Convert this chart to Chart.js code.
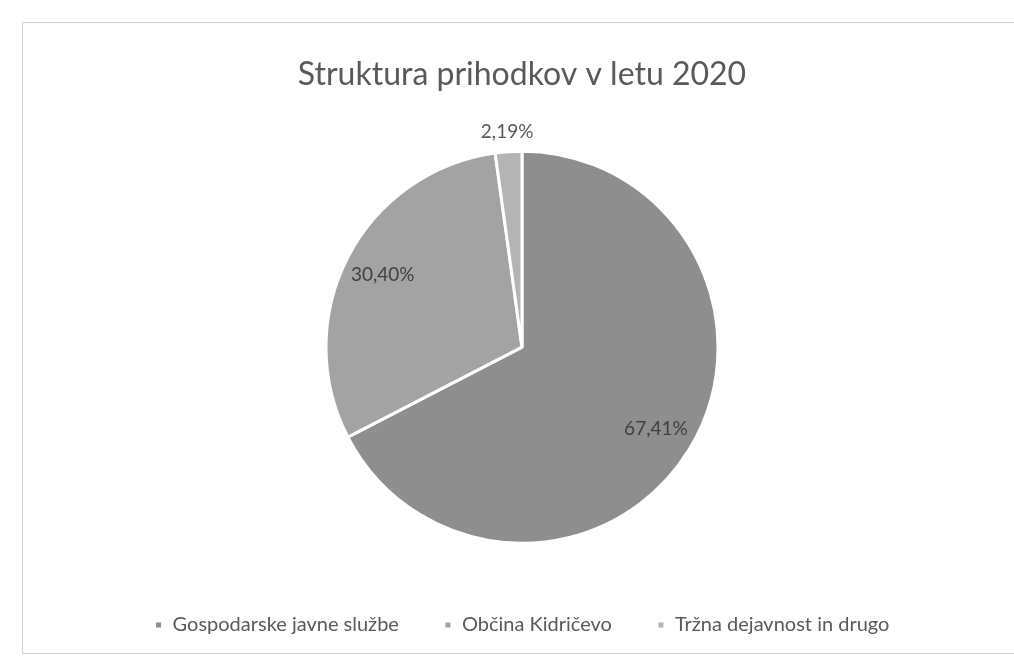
<!DOCTYPE html>
<html>
<head>
<meta charset="utf-8">
<script src="https://cdn.jsdelivr.net/npm/chart.js@4/dist/chart.umd.min.js"></script>
<style>
  html, body { margin: 0; padding: 0; background: #fff; overflow: hidden; }
  #frame { position: absolute; left: 22px; top: 22px; width: 1010px; height: 630px; border: 1px solid #cfcfcf; }
  #c { position: absolute; left: 0; top: 0; }
</style>
</head>
<body>
<div id="frame"></div>
<canvas id="c" width="1014" height="659"></canvas>
<script>
// podatki
const kategorije = ["Gospodarske javne službe", "Občina Kidričevo", "Tržna dejavnost in drugo"];
const deleži = [67.41, 30.40, 2.19];
const barve = ["#8e8e8e", "#a3a3a3", "#b4b4b4"];

// oznake odstotkov na rezinah
const oznake = {
  id: "oznake",
  afterDatasetsDraw(chart) {
    const ctx = chart.ctx;
    const meta = chart.getDatasetMeta(0);
    ctx.save();
    ctx.font = "19px Lato, 'Open Sans', sans-serif";
    ctx.textAlign = "center";
    ctx.textBaseline = "middle";
    meta.data.forEach((arc, i) => {
      const p = arc.getProps(["x", "y", "startAngle", "endAngle", "outerRadius"], true);
      const kot = (p.startAngle + p.endAngle) / 2;
      const zunaj = deleži[i] < 5;
      const r = zunaj ? p.outerRadius + 20 : p.outerRadius * 0.8;
      ctx.fillStyle = zunaj ? "#595959" : "#404040";
      const txt = deleži[i].toFixed(2).replace(".", ",") + "%";
      ctx.fillText(txt, p.x + Math.cos(kot) * r, p.y + Math.sin(kot) * r);
    });
    ctx.restore();
  }
};

new Chart(document.getElementById("c"), {
  type: "pie",
  data: {
    labels: kategorije,
    datasets: [{
      data: deleži,
      backgroundColor: barve,
      borderColor: "#ffffff",
      borderWidth: 3,
      radius: 196
    }]
  },
  options: {
    responsive: false,
    devicePixelRatio: 1,
    animation: false,
    layout: { padding: { left: 30, right: 0, top: 0, bottom: 14 } },
    plugins: {
      title: {
        display: true,
        text: "Struktura prihodkov v letu 2020",
        color: "#595959",
        font: { family: "Lato, 'Open Sans', sans-serif", size: 32, weight: "normal" },
        padding: { top: 55, bottom: 31 }
      },
      legend: {
        position: "bottom",
        labels: {
          color: "#595959",
          font: { family: "Lato, 'Open Sans', sans-serif", size: 20 },
          boxWidth: 8,
          boxHeight: 8,
          padding: 45
        }
      },
      tooltip: { enabled: false }
    }
  },
  plugins: [oznake]
});
</script>
</body>
</html>
